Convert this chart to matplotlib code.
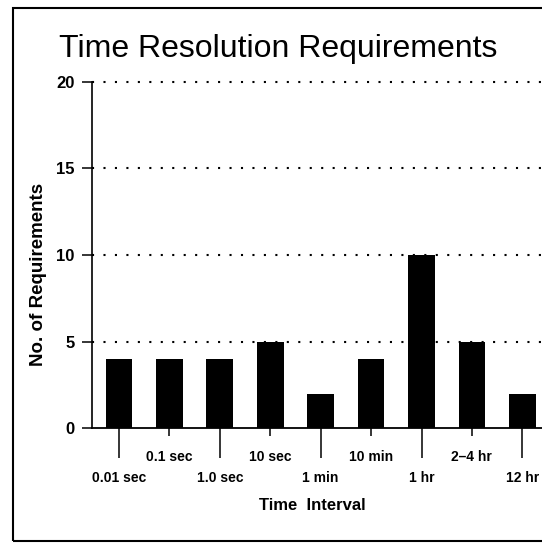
"""
Time resolution requirements bar chart (recreated from a scanned figure).
"""

import matplotlib
matplotlib.use("Agg")
import matplotlib.pyplot as plt
from matplotlib.patches import Rectangle


# ================================================================
# DATA
# ================================================================

intervals = ["0.01 sec", "0.1 sec", "1.0 sec", "10 sec", "1 min",
             "10 min", "1 hr", "2–4 hr", "12 hr"]
counts = [4, 4, 4, 5, 2, 4, 10, 5, 2]
y_ticks = [0, 5, 10, 15, 20]


# ================================================================
# PLOT
# ================================================================

plt.rcParams["font.family"] = ["Liberation Sans", "DejaVu Sans"]

W, H = 542, 544
fig = plt.figure(figsize=(W / 100, H / 100), dpi=100)

# axes box in pixels: left 92, right 542, bottom 428, top 82
ax = fig.add_axes([92 / W, 1 - 428.4 / H, (W - 92) / W, (428.4 - 81.7) / H])

x = list(range(len(intervals)))
ax.bar(x, counts, width=0.53, color="black", zorder=3)

ax.set_xlim(-0.536, 8.39)
ax.set_ylim(0, 20)

# dotted grid at 5, 10, 15, 20
for v in y_ticks[1:]:
    ax.axhline(v, color="black", linestyle=(0, (1, 4.5)), linewidth=1.5,
               zorder=1, clip_on=False)

for side in ["top", "right"]:
    ax.spines[side].set_visible(False)
ax.spines["left"].set_linewidth(1.2)
ax.spines["bottom"].set_linewidth(1.3)

ax.set_yticks(y_ticks)
ax.set_yticklabels([str(v) for v in y_ticks], fontsize=12,
                   fontweight="bold")
ax.tick_params(axis="y", direction="out", length=7.5, width=1.1, pad=5)

# staggered x labels: long ticks for one row, short ticks for the other
ax.set_xticks(x[0::2])
ax.set_xticklabels(intervals[0::2], fontsize=10, fontweight="bold")
ax.set_xticks(x[1::2], minor=True)
ax.set_xticklabels(intervals[1::2], minor=True, fontsize=10,
                   fontweight="bold")
ax.tick_params(axis="x", which="major", direction="out", length=21.5,
               width=1.1, pad=9)
ax.tick_params(axis="x", which="minor", direction="out", length=5.5,
               width=1.1, pad=10)

ax.set_xlabel("Time  Interval", fontsize=12, fontweight="bold")
ax.xaxis.set_label_coords(0.489, -0.200)
ax.set_ylabel("No. of Requirements", fontsize=13.5, fontweight="bold")
ax.yaxis.set_label_coords(-0.100, 0.445)

fig.text(278 / W, 1 - 57 / H, "Time Resolution Requirements",
         fontsize=23, ha="center", va="baseline")

# outer frame (runs off the right edge as in the scan)
fig.add_artist(Rectangle((13 / W, 1 - 541 / H), 1.0, (541 - 8) / H,
                         transform=fig.transFigure, fill=False,
                         linewidth=1.5, edgecolor="black", clip_on=False))

fig.savefig("out.png", dpi=100)
